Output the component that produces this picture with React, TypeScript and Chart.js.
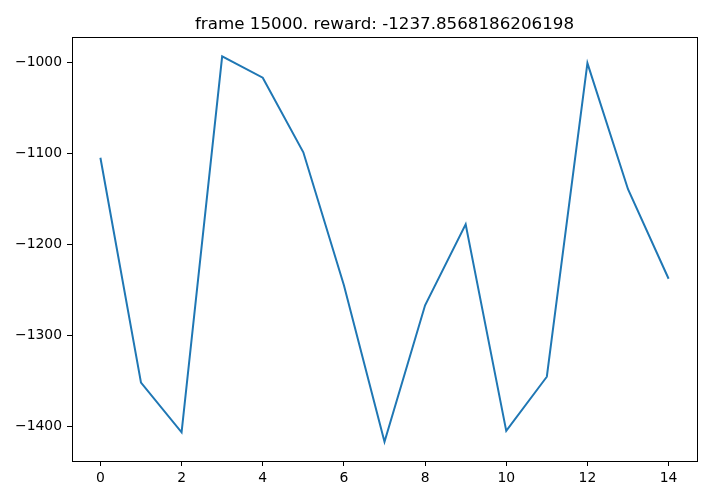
import React, { useEffect, useRef } from "react";
import { Chart, registerables } from "chart.js";

Chart.register(...registerables);

const titleText = "frame 15000. reward: -1237.8568186206198";
const frames: number[] = [0, 1, 2, 3, 4, 5, 6, 7, 8, 9, 10, 11, 12, 13, 14];
const rewards: number[] = [
  -1105, -1352, -1406.5, -993.5, -1017, -1099, -1245, -1416.9, -1267, -1178,
  -1405, -1345.5, -1001, -1139.5, -1237.8568186206198,
];
const xTicks: number[] = [0, 2, 4, 6, 8, 10, 12, 14];
const yTicks: number[] = [-1400, -1300, -1200, -1100, -1000];

const fmt = (v: number) => String(v).replace("-", "\u2212");

export default function App() {
  const ref = useRef<HTMLCanvasElement | null>(null);
  useEffect(() => {
    document.body.style.margin = "0";
    const canvas = ref.current!;
    const n = rewards.length;
    const lo = Math.min(...rewards);
    const hi = Math.max(...rewards);
    const padY = (hi - lo) * 0.05;
    const padX = (n - 1) * 0.05;

    const framePlugin = {
      id: "frameTitle",
      afterDraw(chart: any) {
        const { ctx, chartArea } = chart;
        ctx.save();
        ctx.strokeStyle = "#000";
        ctx.lineWidth = 1;
        ctx.strokeRect(
          Math.round(chartArea.left) + 0.5,
          Math.round(chartArea.top) + 0.5,
          Math.round(chartArea.right - chartArea.left),
          Math.round(chartArea.bottom - chartArea.top)
        );
        ctx.fillStyle = "#000";
        ctx.font = '16.7px "DejaVu Sans"';
        ctx.textAlign = "center";
        ctx.textBaseline = "alphabetic";
        ctx.fillText(titleText, (chartArea.left + chartArea.right) / 2, 29);
        ctx.restore();
      },
    };

    const chart = new Chart(canvas, {
      type: "line",
      data: {
        datasets: [
          {
            data: frames.map((f, i) => ({ x: f, y: rewards[i] })),
            borderColor: "#1f77b4",
            borderWidth: 2,
            pointRadius: 0,
            fill: false,
            tension: 0,
          },
        ],
      },
      options: {
        animation: false,
        responsive: false,
        layout: { padding: { top: 37, right: 11, left: 0, bottom: 0 } },
        plugins: { legend: { display: false }, tooltip: { enabled: false }, title: { display: false } },
        scales: {
          x: {
            type: "linear",
            min: -padX,
            max: n - 1 + padX,
            afterFit: (s: any) => {
              s.height = 39;
            },
            afterBuildTicks: (s: any) => {
              s.ticks = xTicks.map((v) => ({ value: v }));
            },
            grid: { drawOnChartArea: false, drawTicks: true, tickLength: 5, tickColor: "#000", tickWidth: 1 },
            border: { display: true, color: "#000", width: 1 },
            ticks: {
              color: "#000",
              font: { family: "DejaVu Sans", size: 13.9 },
              padding: 4,
              maxRotation: 0,
              callback: (v: any) => fmt(Number(v)),
            },
          },
          y: {
            type: "linear",
            min: lo - padY,
            max: hi + padY,
            afterFit: (s: any) => {
              s.width = 72;
            },
            afterBuildTicks: (s: any) => {
              s.ticks = yTicks.map((v) => ({ value: v }));
            },
            grid: { drawOnChartArea: false, drawTicks: true, tickLength: 5, tickColor: "#000", tickWidth: 1 },
            border: { display: true, color: "#000", width: 1 },
            ticks: {
              color: "#000",
              font: { family: "DejaVu Sans", size: 13.9 },
              padding: 5,
              callback: (v: any) => fmt(Number(v)),
            },
          },
        },
      },
      plugins: [framePlugin],
    });
    return () => chart.destroy();
  }, []);
  return <canvas ref={ref} width={708} height={500} style={{ display: "block" }} />;
}
